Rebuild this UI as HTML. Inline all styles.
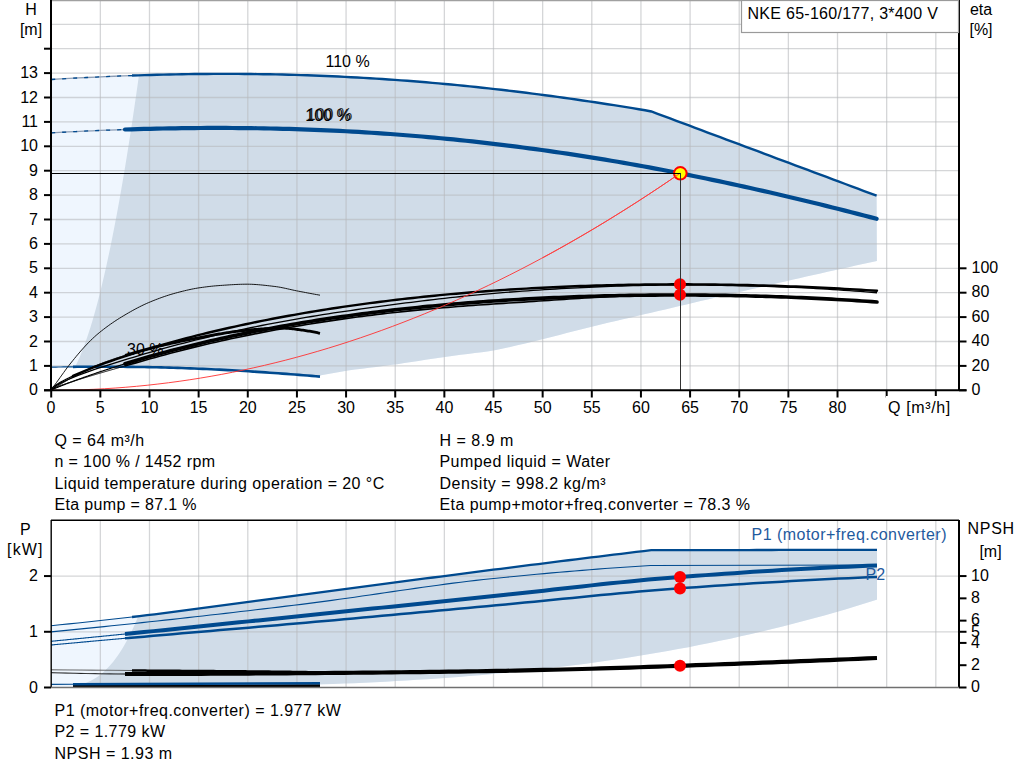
<!DOCTYPE html><html><head><meta charset="utf-8"><style>html,body{margin:0;padding:0;background:#fff;overflow:hidden}svg{display:block}</style></head><body><svg width="1024" height="781" viewBox="0 0 1024 781"><path d="M51.20 79.51L58.14 79.08L65.07 78.67L72.01 78.28L78.94 77.90L85.88 77.54L92.82 77.19L99.75 76.86L106.69 76.55L113.63 76.25L120.56 75.97L127.50 75.70L134.43 75.46L141.37 75.23L148.31 75.02L155.24 74.82L162.18 74.64L169.11 74.49L176.05 74.35L182.99 74.22L189.92 74.12L196.86 74.03L203.79 73.97L210.73 73.92L217.67 73.89L224.60 73.88L231.54 73.89L238.48 73.92L245.41 73.97L252.35 74.04L259.28 74.13L266.22 74.24L273.16 74.37L280.09 74.52L287.03 74.68L293.96 74.87L300.90 75.08L307.84 75.31L314.77 75.56L321.71 75.82L328.65 76.11L335.58 76.42L342.52 76.75L349.45 77.10L356.39 77.47L363.33 77.86L370.26 78.28L377.20 78.71L384.13 79.16L391.07 79.63L398.01 80.12L404.94 80.64L411.88 81.17L418.82 81.72L425.75 82.30L432.69 82.89L439.62 83.50L446.56 84.14L453.50 84.79L460.43 85.46L467.37 86.16L474.30 86.87L481.24 87.60L488.18 88.35L495.11 89.12L502.05 89.91L508.98 90.72L515.92 91.55L522.86 92.40L529.79 93.26L536.73 94.15L543.67 95.05L550.60 95.97L557.54 96.91L564.47 97.87L571.41 98.84L578.35 99.84L585.28 100.85L592.22 101.87L599.15 102.92L606.09 103.98L613.03 105.06L619.96 106.15L626.90 107.26L633.84 108.39L640.77 109.53L647.71 110.69L654.64 112.69L661.58 115.28L668.52 117.88L675.45 120.47L682.39 123.06L689.32 125.66L696.26 128.25L703.20 130.85L710.13 133.44L717.07 136.04L724.01 138.63L730.94 141.22L737.88 143.82L744.81 146.41L751.75 149.01L758.69 151.60L765.62 154.19L772.56 156.79L779.49 159.38L786.43 161.98L793.37 164.57L800.30 167.16L807.24 169.76L814.17 172.35L821.11 174.95L828.05 177.54L834.98 180.14L841.92 182.73L848.86 185.32L855.79 187.92L862.73 190.51L869.66 193.11L876.60 195.70L876.90 261.00L869.85 262.53L862.79 264.07L855.74 265.61L848.69 267.16L841.63 268.72L834.58 270.28L827.53 271.85L820.47 273.42L813.42 275.01L806.37 276.59L799.32 278.19L792.26 279.79L785.21 281.41L778.16 283.03L771.10 284.65L764.05 286.28L757.00 287.91L749.94 289.55L742.89 291.18L735.84 292.82L728.78 294.47L721.73 296.12L714.68 297.77L707.62 299.43L700.57 301.09L693.52 302.76L686.46 304.42L679.41 306.09L672.36 307.75L665.31 309.41L658.25 311.07L651.20 312.72L644.15 314.36L637.09 316.01L630.04 317.65L622.99 319.30L615.93 320.96L608.88 322.62L601.83 324.30L594.77 326.00L587.72 327.72L580.67 329.48L573.61 331.27L566.56 333.08L559.51 334.90L552.45 336.72L545.40 338.52L538.35 340.29L531.29 342.03L524.24 343.71L517.19 345.35L510.14 347.00L503.08 348.58L496.03 349.99L488.98 351.16L481.92 352.19L474.87 353.12L467.82 354.00L460.76 354.85L453.71 355.72L446.66 356.65L439.60 357.67L432.55 358.73L425.50 359.83L418.44 360.93L411.39 362.04L404.34 363.11L397.28 364.15L390.23 365.12L383.18 366.03L376.13 366.90L369.07 367.77L362.02 368.65L354.97 369.58L347.91 370.59L340.86 371.69L333.81 372.89L326.75 374.17L319.70 375.50L320.00 376.58L313.11 376.01L306.22 375.45L299.32 374.90L292.43 374.37L285.54 373.84L278.65 373.33L271.75 372.84L264.86 372.36L257.97 371.90L251.08 371.45L244.18 371.03L237.29 370.62L230.40 370.23L223.51 369.86L216.62 369.51L209.72 369.18L202.83 368.86L195.94 368.57L189.05 368.30L182.15 368.06L175.26 367.83L168.37 367.62L161.48 367.44L154.58 367.27L147.69 367.13L140.80 367.01L133.91 366.90L127.02 366.82L120.12 366.76L113.23 366.72L106.34 366.69L99.45 366.69L92.55 366.70L85.66 366.73L78.77 366.78L71.88 366.85L64.98 366.92L58.09 367.02L51.20 367.13 Z" fill="#eff6fe"/>
<path d="M138.94 75.31L145.14 75.11L151.34 74.93L157.54 74.76L163.74 74.61L169.94 74.47L176.13 74.34L182.33 74.23L188.53 74.14L194.73 74.06L200.93 73.99L207.13 73.94L213.33 73.91L219.53 73.89L225.73 73.88L231.92 73.90L238.12 73.92L244.32 73.96L250.52 74.02L256.72 74.10L262.92 74.19L269.12 74.29L275.32 74.41L281.51 74.55L287.71 74.70L293.91 74.87L300.11 75.05L306.31 75.26L312.51 75.47L318.71 75.71L324.91 75.96L331.11 76.22L337.30 76.50L343.50 76.80L349.70 77.12L355.90 77.45L362.10 77.79L368.30 78.16L374.50 78.54L380.70 78.93L386.89 79.34L393.09 79.77L399.29 80.22L405.49 80.68L411.69 81.15L417.89 81.65L424.09 82.16L430.29 82.68L436.48 83.22L442.68 83.78L448.88 84.35L455.08 84.94L461.28 85.55L467.48 86.17L473.68 86.80L479.88 87.46L486.08 88.12L492.27 88.81L498.47 89.50L504.67 90.22L510.87 90.95L517.07 91.69L523.27 92.45L529.47 93.22L535.67 94.01L541.86 94.81L548.06 95.63L554.26 96.47L560.46 97.31L566.66 98.17L572.86 99.05L579.06 99.94L585.26 100.84L591.45 101.76L597.65 102.69L603.85 103.63L610.05 104.59L616.25 105.56L622.45 106.55L628.65 107.54L634.85 108.55L641.05 109.58L647.24 110.61L653.44 112.24L659.64 114.56L665.84 116.88L672.04 119.19L678.24 121.51L684.44 123.83L690.64 126.15L696.83 128.47L703.03 130.79L709.23 133.10L715.43 135.42L721.63 137.74L727.83 140.06L734.03 142.38L740.23 144.70L746.43 147.01L752.62 149.33L758.82 151.65L765.02 153.97L771.22 156.29L777.42 158.61L783.62 160.92L789.82 163.24L796.02 165.56L802.21 167.88L808.41 170.20L814.61 172.52L820.81 174.83L827.01 177.15L833.21 179.47L839.41 181.79L845.61 184.11L851.80 186.43L858.00 188.74L864.20 191.06L870.40 193.38L876.60 195.70L876.90 261.00L869.85 262.53L862.79 264.07L855.74 265.61L848.69 267.16L841.63 268.72L834.58 270.28L827.53 271.85L820.47 273.42L813.42 275.01L806.37 276.59L799.32 278.19L792.26 279.79L785.21 281.41L778.16 283.03L771.10 284.65L764.05 286.28L757.00 287.91L749.94 289.55L742.89 291.18L735.84 292.82L728.78 294.47L721.73 296.12L714.68 297.77L707.62 299.43L700.57 301.09L693.52 302.76L686.46 304.42L679.41 306.09L672.36 307.75L665.31 309.41L658.25 311.07L651.20 312.72L644.15 314.36L637.09 316.01L630.04 317.65L622.99 319.30L615.93 320.96L608.88 322.62L601.83 324.30L594.77 326.00L587.72 327.72L580.67 329.48L573.61 331.27L566.56 333.08L559.51 334.90L552.45 336.72L545.40 338.52L538.35 340.29L531.29 342.03L524.24 343.71L517.19 345.35L510.14 347.00L503.08 348.58L496.03 349.99L488.98 351.16L481.92 352.19L474.87 353.12L467.82 354.00L460.76 354.85L453.71 355.72L446.66 356.65L439.60 357.67L432.55 358.73L425.50 359.83L418.44 360.93L411.39 362.04L404.34 363.11L397.28 364.15L390.23 365.12L383.18 366.03L376.13 366.90L369.07 367.77L362.02 368.65L354.97 369.58L347.91 370.59L340.86 371.69L333.81 372.89L326.75 374.17L319.70 375.50L320.00 376.58L313.72 376.06L307.44 375.55L301.17 375.05L294.89 374.55L288.61 374.07L282.33 373.60L276.05 373.15L269.78 372.70L263.50 372.27L257.22 371.85L250.94 371.45L244.66 371.06L238.39 370.68L232.11 370.32L225.83 369.98L219.55 369.65L213.27 369.34L207.00 369.05L200.72 368.77L194.44 368.51L188.16 368.27L181.88 368.05L175.61 367.84L169.33 367.65L163.05 367.48L156.77 367.32L150.49 367.18L144.22 367.06L137.94 366.96L131.66 366.87L125.38 366.80L119.11 366.75L112.83 366.71L106.55 366.69L100.27 366.69L93.99 366.70L87.72 366.72L81.44 366.76L75.16 366.81L75.16 366.81L77.36 362.30L79.56 357.40L81.76 352.09L83.96 346.40L86.16 340.30L88.36 333.81L90.56 326.93L92.75 319.65L94.95 311.97L97.15 303.90L99.35 295.43L101.55 286.57L103.75 277.31L105.95 267.65L108.15 257.60L110.35 247.15L112.55 236.31L114.75 225.07L116.95 213.43L119.15 201.40L121.35 188.97L123.55 176.15L125.75 162.93L127.95 149.32L130.14 135.31L132.34 120.90L134.54 106.10L136.74 90.90L138.94 75.31 Z" fill="#d0dce8"/>
<line x1="100.34" y1="0" x2="100.34" y2="390" stroke="rgba(182,184,187,0.58)" stroke-width="1.3"/>
<line x1="149.49" y1="0" x2="149.49" y2="390" stroke="rgba(182,184,187,0.58)" stroke-width="1.3"/>
<line x1="198.63" y1="0" x2="198.63" y2="390" stroke="rgba(182,184,187,0.58)" stroke-width="1.3"/>
<line x1="247.78" y1="0" x2="247.78" y2="390" stroke="rgba(182,184,187,0.58)" stroke-width="1.3"/>
<line x1="296.93" y1="0" x2="296.93" y2="390" stroke="rgba(182,184,187,0.58)" stroke-width="1.3"/>
<line x1="346.07" y1="0" x2="346.07" y2="390" stroke="rgba(182,184,187,0.58)" stroke-width="1.3"/>
<line x1="395.22" y1="0" x2="395.22" y2="390" stroke="rgba(182,184,187,0.58)" stroke-width="1.3"/>
<line x1="444.36" y1="0" x2="444.36" y2="390" stroke="rgba(182,184,187,0.58)" stroke-width="1.3"/>
<line x1="493.50" y1="0" x2="493.50" y2="390" stroke="rgba(182,184,187,0.58)" stroke-width="1.3"/>
<line x1="542.65" y1="0" x2="542.65" y2="390" stroke="rgba(182,184,187,0.58)" stroke-width="1.3"/>
<line x1="591.80" y1="0" x2="591.80" y2="390" stroke="rgba(182,184,187,0.58)" stroke-width="1.3"/>
<line x1="640.94" y1="0" x2="640.94" y2="390" stroke="rgba(182,184,187,0.58)" stroke-width="1.3"/>
<line x1="690.09" y1="0" x2="690.09" y2="390" stroke="rgba(182,184,187,0.58)" stroke-width="1.3"/>
<line x1="739.23" y1="0" x2="739.23" y2="390" stroke="rgba(182,184,187,0.58)" stroke-width="1.3"/>
<line x1="788.38" y1="0" x2="788.38" y2="390" stroke="rgba(182,184,187,0.58)" stroke-width="1.3"/>
<line x1="837.52" y1="0" x2="837.52" y2="390" stroke="rgba(182,184,187,0.58)" stroke-width="1.3"/>
<line x1="886.67" y1="0" x2="886.67" y2="390" stroke="rgba(182,184,187,0.58)" stroke-width="1.3"/>
<line x1="935.81" y1="0" x2="935.81" y2="390" stroke="rgba(182,184,187,0.58)" stroke-width="1.3"/>
<line x1="51" y1="365.90" x2="959" y2="365.90" stroke="rgba(182,184,187,0.58)" stroke-width="1.3"/>
<line x1="51" y1="341.50" x2="959" y2="341.50" stroke="rgba(182,184,187,0.58)" stroke-width="1.3"/>
<line x1="51" y1="317.10" x2="959" y2="317.10" stroke="rgba(182,184,187,0.58)" stroke-width="1.3"/>
<line x1="51" y1="292.70" x2="959" y2="292.70" stroke="rgba(182,184,187,0.58)" stroke-width="1.3"/>
<line x1="51" y1="268.30" x2="959" y2="268.30" stroke="rgba(182,184,187,0.58)" stroke-width="1.3"/>
<line x1="51" y1="243.90" x2="959" y2="243.90" stroke="rgba(182,184,187,0.58)" stroke-width="1.3"/>
<line x1="51" y1="219.50" x2="959" y2="219.50" stroke="rgba(182,184,187,0.58)" stroke-width="1.3"/>
<line x1="51" y1="195.10" x2="959" y2="195.10" stroke="rgba(182,184,187,0.58)" stroke-width="1.3"/>
<line x1="51" y1="170.70" x2="959" y2="170.70" stroke="rgba(182,184,187,0.58)" stroke-width="1.3"/>
<line x1="51" y1="146.30" x2="959" y2="146.30" stroke="rgba(182,184,187,0.58)" stroke-width="1.3"/>
<line x1="51" y1="121.90" x2="959" y2="121.90" stroke="rgba(182,184,187,0.58)" stroke-width="1.3"/>
<line x1="51" y1="97.50" x2="959" y2="97.50" stroke="rgba(182,184,187,0.58)" stroke-width="1.3"/>
<line x1="51" y1="73.10" x2="959" y2="73.10" stroke="rgba(182,184,187,0.58)" stroke-width="1.3"/>
<line x1="51" y1="48.70" x2="959" y2="48.70" stroke="rgba(182,184,187,0.58)" stroke-width="1.3"/>
<line x1="51" y1="24.30" x2="959" y2="24.30" stroke="rgba(182,184,187,0.58)" stroke-width="1.3"/>
<line x1="51" y1="0.5" x2="959" y2="0.5" stroke="#a0a0a0" stroke-width="1.5"/>
<path d="M51.20 132.83L59.40 132.39L67.60 131.96L75.80 131.55L84.00 131.16L92.20 130.79L100.40 130.44L108.60 130.11L116.80 129.81L125.00 129.52" fill="none" stroke="#8c9db5" stroke-width="1.3"/>
<path d="M51.20 132.83L59.40 132.39L67.60 131.96L75.80 131.55L84.00 131.16L92.20 130.79L100.40 130.44L108.60 130.11L116.80 129.81L125.00 129.52" fill="none" stroke="#004a8f" stroke-width="1.3" stroke-dasharray="4 7"/>
<path d="M125.00 129.52L131.32 129.32L137.63 129.13L143.95 128.95L150.26 128.79L156.58 128.64L162.90 128.51L169.21 128.39L175.53 128.28L181.84 128.19L188.16 128.11L194.48 128.05L200.79 128.00L207.11 127.97L213.42 127.95L219.74 127.95L226.06 127.96L232.37 127.99L238.69 128.03L245.00 128.09L251.32 128.17L257.64 128.26L263.95 128.37L270.27 128.49L276.58 128.63L282.90 128.79L289.22 128.96L295.53 129.15L301.85 129.36L308.16 129.58L314.48 129.82L320.79 130.07L327.11 130.35L333.43 130.64L339.74 130.95L346.06 131.27L352.37 131.61L358.69 131.97L365.01 132.35L371.32 132.74L377.64 133.15L383.95 133.58L390.27 134.03L396.59 134.49L402.90 134.97L409.22 135.47L415.53 135.99L421.85 136.52L428.17 137.08L434.48 137.65L440.80 138.23L447.11 138.84L453.43 139.46L459.75 140.10L466.06 140.76L472.38 141.43L478.69 142.13L485.01 142.84L491.33 143.57L497.64 144.31L503.96 145.08L510.27 145.86L516.59 146.66L522.91 147.47L529.22 148.31L535.54 149.16L541.85 150.03L548.17 150.91L554.49 151.82L560.80 152.74L567.12 153.68L573.43 154.63L579.75 155.61L586.07 156.60L592.38 157.60L598.70 158.63L605.01 159.67L611.33 160.72L617.65 161.80L623.96 162.89L630.28 163.99L636.59 165.12L642.91 166.26L649.23 167.41L655.54 168.58L661.86 169.77L668.17 170.98L674.49 172.20L680.81 173.43L687.12 174.68L693.44 175.95L699.75 177.23L706.07 178.53L712.38 179.84L718.70 181.17L725.02 182.51L731.33 183.87L737.65 185.24L743.96 186.63L750.28 188.03L756.60 189.44L762.91 190.87L769.23 192.31L775.54 193.77L781.86 195.23L788.18 196.72L794.49 198.21L800.81 199.72L807.12 201.24L813.44 202.78L819.76 204.32L826.07 205.88L832.39 207.45L838.70 209.03L845.02 210.63L851.34 212.23L857.65 213.85L863.97 215.48L870.28 217.12L876.60 218.77" fill="none" stroke="#004a8f" stroke-width="4.2" stroke-linecap="round"/>
<path d="M51.20 79.51L60.18 78.96L69.16 78.44L78.13 77.94L87.11 77.48L96.09 77.03L105.07 76.62L114.04 76.23L123.02 75.87L132.00 75.54" fill="none" stroke="#8c9db5" stroke-width="1.3"/>
<path d="M51.20 79.51L60.18 78.96L69.16 78.44L78.13 77.94L87.11 77.48L96.09 77.03L105.07 76.62L114.04 76.23L123.02 75.87L132.00 75.54" fill="none" stroke="#004a8f" stroke-width="1.3" stroke-dasharray="4 7"/>
<path d="M132.00 75.54L138.26 75.33L144.51 75.13L150.77 74.94L157.03 74.77L163.29 74.62L169.54 74.48L175.80 74.35L182.06 74.24L188.31 74.14L194.57 74.06L200.83 73.99L207.09 73.94L213.34 73.91L219.60 73.89L225.86 73.88L232.11 73.90L238.37 73.92L244.63 73.97L250.89 74.03L257.14 74.10L263.40 74.19L269.66 74.30L275.91 74.42L282.17 74.56L288.43 74.72L294.69 74.89L300.94 75.08L307.20 75.29L313.46 75.51L319.71 75.75L325.97 76.00L332.23 76.27L338.49 76.56L344.74 76.86L351.00 77.18L357.26 77.52L363.51 77.88L369.77 78.25L376.03 78.63L382.29 79.04L388.54 79.46L394.80 79.89L401.06 80.35L407.31 80.82L413.57 81.30L419.83 81.81L426.09 82.32L432.34 82.86L438.60 83.41L444.86 83.98L451.11 84.56L457.37 85.16L463.63 85.78L469.89 86.41L476.14 87.06L482.40 87.72L488.66 88.40L494.91 89.10L501.17 89.81L507.43 90.54L513.69 91.28L519.94 92.04L526.20 92.81L532.46 93.60L538.71 94.40L544.97 95.22L551.23 96.06L557.49 96.90L563.74 97.77L570.00 98.64L576.26 99.54L582.51 100.44L588.77 101.36L595.03 102.29L601.29 103.24L607.54 104.20L613.80 105.18L620.06 106.17L626.31 107.17L632.57 108.18L638.83 109.21L645.09 110.25L651.34 111.45L657.60 113.79L663.86 116.13L670.11 118.47L676.37 120.81L682.63 123.15L688.89 125.49L695.14 127.84L701.40 130.18L707.66 132.52L713.91 134.86L720.17 137.20L726.43 139.54L732.69 141.88L738.94 144.22L745.20 146.56L751.46 148.90L757.71 151.24L763.97 153.58L770.23 155.92L776.49 158.26L782.74 160.60L789.00 162.94L795.26 165.28L801.51 167.62L807.77 169.96L814.03 172.30L820.29 174.64L826.54 176.98L832.80 179.32L839.06 181.66L845.31 184.00L851.57 186.34L857.83 188.68L864.09 191.02L870.34 193.36L876.60 195.70" fill="none" stroke="#004a8f" stroke-width="2.4"/>
<path d="M51.20 367.13L53.62 367.09L56.04 367.05L58.47 367.01L60.89 366.98L63.31 366.95L65.73 366.92L68.16 366.89L70.58 366.86L73.00 366.83" fill="none" stroke="#004a8f" stroke-width="1.2"/>
<path d="M73.00 366.83L77.19 366.79L81.37 366.76L85.56 366.73L89.75 366.71L93.93 366.70L98.12 366.69L102.31 366.69L106.49 366.69L110.68 366.71L114.86 366.73L119.05 366.75L123.24 366.78L127.42 366.83L131.61 366.87L135.80 366.93L139.98 366.99L144.17 367.06L148.36 367.14L152.54 367.23L156.73 367.32L160.92 367.42L165.10 367.53L169.29 367.65L173.47 367.77L177.66 367.91L181.85 368.05L186.03 368.19L190.22 368.35L194.41 368.51L198.59 368.68L202.78 368.86L206.97 369.05L211.15 369.24L215.34 369.44L219.53 369.65L223.71 369.87L227.90 370.09L232.08 370.32L236.27 370.56L240.46 370.80L244.64 371.06L248.83 371.31L253.02 371.58L257.20 371.85L261.39 372.13L265.58 372.41L269.76 372.70L273.95 373.00L278.14 373.30L282.32 373.60L286.51 373.92L290.69 374.23L294.88 374.55L299.07 374.88L303.25 375.21L307.44 375.55L311.63 375.89L315.81 376.23L320.00 376.58" fill="none" stroke="#004a8f" stroke-width="2.6"/>
<text x="127.0" y="355.2" text-anchor="start" font-family="Liberation Sans, sans-serif" font-size="16" >30 %</text>
<path d="M51.00 390.30L52.81 387.73L54.61 385.18L56.42 382.64L58.22 380.12L60.03 377.60L61.83 375.09L63.64 372.57L65.44 370.05L67.25 367.60L69.05 365.28L70.86 362.99L72.66 360.74L74.47 358.51L76.28 356.32L78.08 354.16L79.89 352.05L81.69 349.98L83.50 347.95L85.30 345.98L87.11 344.06L88.91 342.19L90.72 340.39L92.52 338.65L94.33 336.97L96.13 335.35L97.94 333.80L99.74 332.31L101.55 330.87L103.36 329.46L105.16 328.08L106.97 326.74L108.77 325.42L110.58 324.14L112.38 322.88L114.19 321.66L115.99 320.46L117.80 319.30L119.60 318.16L121.41 317.05L123.21 315.96L125.02 314.88L126.83 313.82L128.63 312.77L130.44 311.74L132.24 310.72L134.05 309.73L135.85 308.76L137.66 307.81L139.46 306.88L141.27 305.98L143.07 305.10L144.88 304.25L146.68 303.43L148.49 302.64L150.30 301.88L152.10 301.14L153.91 300.41L155.71 299.70L157.52 299.00L159.32 298.33L161.13 297.66L162.93 297.02L164.74 296.40L166.54 295.79L168.35 295.21L170.15 294.64L171.96 294.10L173.77 293.57L175.57 293.07L177.38 292.59L179.18 292.11L180.99 291.65L182.79 291.19L184.60 290.75L186.40 290.32L188.21 289.91L190.01 289.52L191.82 289.14L193.62 288.78L195.43 288.44L197.23 288.13L199.04 287.84L200.85 287.58L202.65 287.33L204.46 287.08L206.26 286.85L208.07 286.63L209.87 286.42L211.68 286.23L213.48 286.04L215.29 285.87L217.09 285.72L218.90 285.58L220.70 285.45L222.51 285.33L224.32 285.20L226.12 285.08L227.93 284.96L229.73 284.84L231.54 284.73L233.34 284.63L235.15 284.53L236.95 284.45L238.76 284.37L240.56 284.31L242.37 284.26L244.17 284.22L245.98 284.20L247.79 284.20L249.59 284.23L251.40 284.28L253.20 284.36L255.01 284.46L256.81 284.59L258.62 284.73L260.42 284.88L262.23 285.05L264.03 285.24L265.84 285.43L267.64 285.63L269.45 285.84L271.26 286.06L273.06 286.27L274.87 286.48L276.67 286.72L278.48 287.00L280.28 287.31L282.09 287.66L283.89 288.03L285.70 288.42L287.50 288.82L289.31 289.23L291.11 289.64L292.92 290.04L294.72 290.44L296.53 290.81L298.34 291.16L300.14 291.51L301.95 291.85L303.75 292.20L305.56 292.54L307.36 292.88L309.17 293.21L310.97 293.55L312.78 293.88L314.58 294.22L316.39 294.55L318.19 294.87L320.00 295.20" fill="none" stroke="#000" stroke-width="0.9" />
<path d="M51.00 390.30L51.50 389.98L51.99 389.66L52.49 389.34L52.99 389.02L53.48 388.70L53.98 388.38L54.48 388.06L54.97 387.75L55.47 387.43L55.97 387.12L56.46 386.81L56.96 386.49L57.46 386.18L57.95 385.87L58.45 385.56L58.95 385.25L59.44 384.95L59.94 384.64L60.44 384.33L60.93 384.03L61.43 383.73L61.93 383.42L62.42 383.12L62.92 382.82L63.42 382.52L63.91 382.22L64.41 381.93L64.91 381.63L65.40 381.34L65.90 381.04L66.40 380.75L66.89 380.46L67.39 380.17L67.89 379.88L68.38 379.59L68.88 379.30L69.38 379.01L69.87 378.73L70.37 378.45L70.87 378.16L71.36 377.88L71.86 377.60L72.36 377.32L72.85 377.04L73.35 376.77L73.85 376.49L74.34 376.22L74.84 375.95L75.34 375.67L75.83 375.40L76.33 375.13L76.83 374.87L77.32 374.60L77.82 374.34L78.32 374.07L78.81 373.81L79.31 373.55L79.81 373.29L80.30 373.03L80.80 372.77L81.30 372.52L81.79 372.26L82.29 372.01L82.79 371.76L83.28 371.51L83.78 371.26L84.28 371.02L84.77 370.77L85.27 370.53L85.77 370.28L86.26 370.04L86.76 369.80L87.26 369.57L87.75 369.33L88.25 369.09L88.74 368.86L89.24 368.63L89.74 368.40L90.23 368.17L90.73 367.94L91.23 367.72L91.72 367.49L92.22 367.27L92.72 367.05L93.21 366.83L93.71 366.61L94.21 366.40L94.70 366.18L95.20 365.97L95.70 365.76L96.19 365.55L96.69 365.34L97.19 365.13L97.68 364.93L98.18 364.73L98.68 364.53L99.17 364.33L99.67 364.13L100.17 363.93L100.66 363.74L101.16 363.55L101.66 363.35L102.15 363.16L102.65 362.97L103.15 362.78L103.64 362.60L104.14 362.41L104.64 362.22L105.13 362.04L105.63 361.86L106.13 361.67L106.62 361.49L107.12 361.31L107.62 361.13L108.11 360.95L108.61 360.77L109.11 360.60L109.60 360.42L110.10 360.25L110.60 360.07L111.09 359.90L111.59 359.73L112.09 359.56L112.58 359.39L113.08 359.22L113.58 359.05L114.07 358.88L114.57 358.71L115.07 358.55L115.56 358.38L116.06 358.22L116.56 358.06L117.05 357.89L117.55 357.73L118.05 357.57L118.54 357.41L119.04 357.25L119.54 357.09L120.03 356.94L120.53 356.78L121.03 356.62L121.52 356.47L122.02 356.31L122.52 356.16L123.01 356.01L123.51 355.85L124.01 355.70L124.50 355.55L125.00 355.40" fill="none" stroke="#000" stroke-width="1.0" />
<path d="M125.00 355.40L126.31 355.01L127.62 354.62L128.93 354.23L130.23 353.85L131.54 353.48L132.85 353.10L134.16 352.74L135.47 352.37L136.78 352.01L138.09 351.65L139.40 351.29L140.70 350.94L142.01 350.59L143.32 350.24L144.63 349.90L145.94 349.55L147.25 349.21L148.56 348.87L149.87 348.53L151.17 348.20L152.48 347.87L153.79 347.54L155.10 347.21L156.41 346.88L157.72 346.56L159.03 346.24L160.34 345.93L161.64 345.61L162.95 345.30L164.26 344.99L165.57 344.68L166.88 344.38L168.19 344.08L169.50 343.78L170.81 343.49L172.11 343.19L173.42 342.90L174.73 342.61L176.04 342.33L177.35 342.04L178.66 341.76L179.97 341.48L181.28 341.21L182.58 340.93L183.89 340.66L185.20 340.39L186.51 340.12L187.82 339.86L189.13 339.60L190.44 339.34L191.74 339.08L193.05 338.82L194.36 338.57L195.67 338.32L196.98 338.07L198.29 337.82L199.60 337.57L200.91 337.33L202.21 337.09L203.52 336.84L204.83 336.60L206.14 336.36L207.45 336.11L208.76 335.87L210.07 335.63L211.38 335.39L212.68 335.15L213.99 334.92L215.30 334.68L216.61 334.45L217.92 334.22L219.23 334.00L220.54 333.78L221.85 333.56L223.15 333.34L224.46 333.13L225.77 332.92L227.08 332.72L228.39 332.52L229.70 332.33L231.01 332.14L232.32 331.95L233.62 331.78L234.93 331.60L236.24 331.44L237.55 331.28L238.86 331.13L240.17 330.98L241.48 330.84L242.79 330.70L244.09 330.56L245.40 330.42L246.71 330.28L248.02 330.14L249.33 330.01L250.64 329.88L251.95 329.75L253.26 329.63L254.56 329.51L255.87 329.40L257.18 329.29L258.49 329.18L259.80 329.09L261.11 328.99L262.42 328.91L263.72 328.83L265.03 328.75L266.34 328.69L267.65 328.63L268.96 328.58L270.27 328.53L271.58 328.48L272.89 328.43L274.19 328.39L275.50 328.35L276.81 328.31L278.12 328.28L279.43 328.25L280.74 328.22L282.05 328.21L283.36 328.20L284.66 328.20L285.97 328.24L287.28 328.31L288.59 328.40L289.90 328.52L291.21 328.66L292.52 328.81L293.83 328.98L295.13 329.15L296.44 329.33L297.75 329.51L299.06 329.68L300.37 329.85L301.68 330.02L302.99 330.20L304.30 330.39L305.60 330.59L306.91 330.80L308.22 331.02L309.53 331.24L310.84 331.47L312.15 331.71L313.46 331.96L314.77 332.21L316.07 332.47L317.38 332.74L318.69 333.01L320.00 333.29" fill="none" stroke="#000" stroke-width="2.8" />
<path d="M51.00 390.80L56.54 385.33L62.09 382.33L67.63 379.75L73.17 377.40L78.72 375.21L84.26 373.13L89.81 371.14L95.35 369.22L100.89 367.36L106.44 365.55L111.98 363.78L117.52 362.05L123.07 360.35L128.61 358.67L134.15 357.01L139.70 355.37L145.24 353.74L150.79 352.13L156.33 350.53L161.87 348.97L167.42 347.44L172.96 345.94L178.50 344.47L184.05 343.03L189.59 341.62L195.13 340.23L200.68 338.87L206.22 337.54L211.77 336.23L217.31 334.95L222.85 333.69L228.40 332.45L233.94 331.24L239.48 330.05L245.03 328.88L250.57 327.74L256.11 326.62L261.66 325.51L267.20 324.43L272.74 323.37L278.29 322.33L283.83 321.31L289.38 320.31L294.92 319.33L300.46 318.37L306.01 317.43L311.55 316.50L317.09 315.59L322.64 314.71L328.18 313.84L333.72 312.98L339.27 312.15L344.81 311.33L350.36 310.53L355.90 309.74L361.44 308.95L366.99 308.17L372.53 307.40L378.07 306.64L383.62 305.89L389.16 305.15L394.70 304.41L400.25 303.69L405.79 302.97L411.34 302.27L416.88 301.58L422.42 300.90L427.97 300.23L433.51 299.57L439.05 298.93L444.60 298.30L450.14 297.68L455.68 297.08L461.23 296.50L466.77 295.93L472.32 295.37L477.86 294.84L483.40 294.32L488.95 293.81L494.49 293.33L500.03 292.86L505.58 292.42L511.12 291.99L516.66 291.57L522.21 291.17L527.75 290.78L533.30 290.40L538.84 290.03L544.38 289.67L549.93 289.32L555.47 288.99L561.01 288.67L566.56 288.36L572.10 288.06L577.64 287.78L583.19 287.51L588.73 287.25L594.28 287.00L599.82 286.77L605.36 286.56L610.91 286.35L616.45 286.16L621.99 285.99L627.54 285.83L633.08 285.69L638.62 285.56L644.17 285.44L649.71 285.34L655.26 285.26L660.80 285.20L666.34 285.15L671.89 285.11L677.43 285.10L682.97 285.10L688.52 285.11L694.06 285.13L699.60 285.17L705.15 285.22L710.69 285.27L716.23 285.34L721.78 285.42L727.32 285.51L732.87 285.62L738.41 285.73L743.95 285.86L749.50 285.99L755.04 286.14L760.58 286.29L766.13 286.46L771.67 286.64L777.21 286.83L782.76 287.03L788.30 287.24L793.85 287.47L799.39 287.70L804.93 287.95L810.48 288.22L816.02 288.51L821.56 288.81L827.11 289.14L832.65 289.49L838.19 289.85L843.74 290.23L849.28 290.62L854.83 291.03L860.37 291.45L865.91 291.88L871.46 292.32L877.00 292.77" fill="none" stroke="#000" stroke-width="1.3" />
<path d="M51.00 389.30L51.50 388.97L51.99 388.74L52.49 388.53L52.99 388.33L53.48 388.13L53.98 387.93L54.48 387.74L54.97 387.55L55.47 387.37L55.97 387.18L56.46 387.00L56.96 386.82L57.46 386.64L57.95 386.46L58.45 386.29L58.95 386.11L59.44 385.93L59.94 385.76L60.44 385.59L60.93 385.41L61.43 385.24L61.93 385.07L62.42 384.90L62.92 384.73L63.42 384.56L63.91 384.39L64.41 384.22L64.91 384.06L65.40 383.89L65.90 383.72L66.40 383.56L66.89 383.39L67.39 383.23L67.89 383.06L68.38 382.90L68.88 382.74L69.38 382.57L69.87 382.41L70.37 382.25L70.87 382.09L71.36 381.92L71.86 381.76L72.36 381.60L72.85 381.44L73.35 381.28L73.85 381.12L74.34 380.97L74.84 380.81L75.34 380.65L75.83 380.49L76.33 380.33L76.83 380.18L77.32 380.02L77.82 379.86L78.32 379.71L78.81 379.55L79.31 379.39L79.81 379.24L80.30 379.08L80.80 378.93L81.30 378.78L81.79 378.62L82.29 378.47L82.79 378.31L83.28 378.16L83.78 378.01L84.28 377.86L84.77 377.70L85.27 377.55L85.77 377.40L86.26 377.25L86.76 377.10L87.26 376.94L87.75 376.79L88.25 376.64L88.74 376.49L89.24 376.34L89.74 376.19L90.23 376.04L90.73 375.89L91.23 375.74L91.72 375.59L92.22 375.45L92.72 375.30L93.21 375.15L93.71 375.00L94.21 374.85L94.70 374.71L95.20 374.56L95.70 374.41L96.19 374.26L96.69 374.12L97.19 373.97L97.68 373.82L98.18 373.68L98.68 373.53L99.17 373.38L99.67 373.24L100.17 373.09L100.66 372.95L101.16 372.80L101.66 372.66L102.15 372.51L102.65 372.37L103.15 372.22L103.64 372.08L104.14 371.93L104.64 371.79L105.13 371.64L105.63 371.50L106.13 371.36L106.62 371.21L107.12 371.07L107.62 370.92L108.11 370.78L108.61 370.64L109.11 370.49L109.60 370.35L110.10 370.21L110.60 370.07L111.09 369.92L111.59 369.78L112.09 369.64L112.58 369.50L113.08 369.35L113.58 369.21L114.07 369.07L114.57 368.93L115.07 368.79L115.56 368.64L116.06 368.50L116.56 368.36L117.05 368.22L117.55 368.08L118.05 367.94L118.54 367.80L119.04 367.65L119.54 367.51L120.03 367.37L120.53 367.23L121.03 367.09L121.52 366.95L122.02 366.81L122.52 366.67L123.01 366.53L123.51 366.39L124.01 366.25L124.50 366.11L125.00 365.97" fill="none" stroke="#000" stroke-width="1.0" />
<path d="M125.00 365.97L130.05 364.54L135.09 363.12L140.14 361.70L145.19 360.27L150.23 358.85L155.28 357.43L160.33 356.03L165.38 354.66L170.42 353.32L175.47 351.99L180.52 350.69L185.56 349.40L190.61 348.14L195.66 346.90L200.70 345.69L205.75 344.49L210.80 343.31L215.85 342.16L220.89 341.02L225.94 339.90L230.99 338.81L236.03 337.73L241.08 336.67L246.13 335.63L251.17 334.60L256.22 333.60L261.27 332.62L266.32 331.65L271.36 330.70L276.41 329.76L281.46 328.85L286.50 327.95L291.55 327.07L296.60 326.20L301.64 325.35L306.69 324.52L311.74 323.70L316.79 322.90L321.83 322.11L326.88 321.34L331.93 320.59L336.97 319.85L342.02 319.12L347.07 318.41L352.11 317.72L357.16 317.04L362.21 316.38L367.26 315.73L372.30 315.10L377.35 314.49L382.40 313.89L387.44 313.31L392.49 312.74L397.54 312.19L402.58 311.65L407.63 311.12L412.68 310.61L417.72 310.11L422.77 309.63L427.82 309.15L432.87 308.69L437.91 308.24L442.96 307.81L448.01 307.38L453.05 306.96L458.10 306.56L463.15 306.17L468.19 305.78L473.24 305.41L478.29 305.04L483.34 304.69L488.38 304.34L493.43 304.00L498.48 303.67L503.52 303.35L508.57 303.04L513.62 302.73L518.66 302.41L523.71 302.08L528.76 301.75L533.81 301.41L538.85 301.07L543.90 300.73L548.95 300.38L553.99 300.04L559.04 299.70L564.09 299.36L569.13 299.03L574.18 298.70L579.23 298.38L584.28 298.07L589.32 297.77L594.37 297.48L599.42 297.20L604.46 296.94L609.51 296.69L614.56 296.46L619.60 296.25L624.65 296.05L629.70 295.88L634.74 295.73L639.79 295.61L644.84 295.51L649.89 295.43L654.93 295.38L659.98 295.33L665.03 295.29L670.07 295.27L675.12 295.25L680.17 295.24L685.21 295.23L690.26 295.24L695.31 295.26L700.36 295.29L705.40 295.32L710.45 295.36L715.50 295.42L720.54 295.48L725.59 295.55L730.64 295.63L735.68 295.72L740.73 295.82L745.78 295.92L750.83 296.04L755.87 296.16L760.92 296.30L765.97 296.44L771.01 296.60L776.06 296.76L781.11 296.93L786.15 297.11L791.20 297.30L796.25 297.50L801.30 297.71L806.34 297.92L811.39 298.15L816.44 298.39L821.48 298.64L826.53 298.89L831.58 299.16L836.62 299.43L841.67 299.72L846.72 300.02L851.77 300.32L856.81 300.64L861.86 300.96L866.91 301.30L871.95 301.64L877.00 302.00" fill="none" stroke="#000" stroke-width="1.6" />
<path d="M51.00 390.30L51.15 389.58L51.30 389.26L51.44 389.00L51.59 388.77L51.74 388.57L51.89 388.39L52.03 388.21L52.18 388.04L52.33 387.89L52.48 387.73L52.62 387.59L52.77 387.45L52.92 387.31L53.07 387.17L53.21 387.04L53.36 386.91L53.51 386.79L53.66 386.67L53.81 386.55L53.95 386.43L54.10 386.31L54.25 386.20L54.40 386.08L54.54 385.97L54.69 385.86L54.84 385.75L54.99 385.64L55.13 385.54L55.28 385.43L55.43 385.33L55.58 385.23L55.72 385.12L55.87 385.02L56.02 384.92L56.17 384.82L56.32 384.73L56.46 384.63L56.61 384.53L56.76 384.43L56.91 384.34L57.05 384.24L57.20 384.15L57.35 384.06L57.50 383.96L57.64 383.87L57.79 383.78L57.94 383.69L58.09 383.60L58.23 383.51L58.38 383.42L58.53 383.33L58.68 383.24L58.83 383.16L58.97 383.07L59.12 382.98L59.27 382.89L59.42 382.81L59.56 382.72L59.71 382.64L59.86 382.55L60.01 382.47L60.15 382.38L60.30 382.30L60.45 382.22L60.60 382.13L60.74 382.05L60.89 381.97L61.04 381.88L61.19 381.80L61.34 381.72L61.48 381.64L61.63 381.56L61.78 381.48L61.93 381.40L62.07 381.32L62.22 381.24L62.37 381.16L62.52 381.08L62.66 381.00L62.81 380.92L62.96 380.84L63.11 380.77L63.26 380.69L63.40 380.61L63.55 380.53L63.70 380.46L63.85 380.38L63.99 380.30L64.14 380.22L64.29 380.15L64.44 380.07L64.58 380.00L64.73 379.92L64.88 379.85L65.03 379.77L65.17 379.69L65.32 379.62L65.47 379.55L65.62 379.47L65.77 379.40L65.91 379.32L66.06 379.25L66.21 379.17L66.36 379.10L66.50 379.03L66.65 378.95L66.80 378.88L66.95 378.81L67.09 378.74L67.24 378.66L67.39 378.59L67.54 378.52L67.68 378.45L67.83 378.37L67.98 378.30L68.13 378.23L68.28 378.16L68.42 378.09L68.57 378.02L68.72 377.95L68.87 377.88L69.01 377.81L69.16 377.73L69.31 377.66L69.46 377.59L69.60 377.52L69.75 377.45L69.90 377.38L70.05 377.31L70.19 377.24L70.34 377.18L70.49 377.11L70.64 377.04L70.79 376.97L70.93 376.90L71.08 376.83L71.23 376.76L71.38 376.69L71.52 376.62L71.67 376.56L71.82 376.49L71.97 376.42L72.11 376.35L72.26 376.28L72.41 376.22L72.56 376.15L72.70 376.08L72.85 376.01L73.00 375.95" fill="none" stroke="#000" stroke-width="1.2" />
<path d="M73.00 375.95L78.40 373.56L83.79 371.28L89.19 369.10L94.58 366.99L99.98 364.95L105.38 362.97L110.77 361.05L116.17 359.17L121.56 357.34L126.96 355.55L132.36 353.81L137.75 352.10L143.15 350.43L148.54 348.79L153.94 347.19L159.34 345.62L164.73 344.08L170.13 342.57L175.52 341.09L180.92 339.64L186.32 338.22L191.71 336.82L197.11 335.45L202.50 334.11L207.90 332.79L213.30 331.50L218.69 330.23L224.09 328.99L229.48 327.77L234.88 326.57L240.28 325.39L245.67 324.24L251.07 323.11L256.46 322.00L261.86 320.91L267.26 319.84L272.65 318.79L278.05 317.77L283.44 316.76L288.84 315.77L294.23 314.81L299.63 313.86L305.03 312.93L310.42 312.02L315.82 311.12L321.21 310.25L326.61 309.39L332.01 308.55L337.40 307.73L342.80 306.92L348.19 306.14L353.59 305.37L358.99 304.61L364.38 303.87L369.78 303.15L375.17 302.45L380.57 301.76L385.97 301.08L391.36 300.43L396.76 299.78L402.15 299.16L407.55 298.54L412.95 297.95L418.34 297.36L423.74 296.79L429.13 296.24L434.53 295.70L439.93 295.18L445.32 294.66L450.72 294.17L456.11 293.68L461.51 293.21L466.91 292.75L472.30 292.31L477.70 291.88L483.09 291.46L488.49 291.06L493.89 290.67L499.28 290.29L504.68 289.92L510.07 289.57L515.47 289.23L520.87 288.90L526.26 288.58L531.66 288.28L537.05 287.98L542.45 287.70L547.85 287.43L553.24 287.18L558.64 286.93L564.03 286.70L569.43 286.47L574.83 286.26L580.22 286.06L585.62 285.87L591.01 285.69L596.41 285.53L601.81 285.37L607.20 285.22L612.60 285.09L617.99 284.97L623.39 284.85L628.79 284.75L634.18 284.66L639.58 284.58L644.97 284.51L650.37 284.45L655.77 284.40L661.16 284.36L666.56 284.33L671.95 284.31L677.35 284.30L682.74 284.30L688.14 284.31L693.54 284.33L698.93 284.36L704.33 284.40L709.72 284.45L715.12 284.51L720.52 284.58L725.91 284.66L731.31 284.75L736.70 284.85L742.10 284.96L747.50 285.07L752.89 285.20L758.29 285.34L763.68 285.49L769.08 285.64L774.48 285.81L779.87 285.99L785.27 286.17L790.66 286.37L796.06 286.57L801.46 286.78L806.85 287.01L812.25 287.24L817.64 287.48L823.04 287.73L828.44 287.99L833.83 288.27L839.23 288.55L844.62 288.84L850.02 289.13L855.42 289.44L860.81 289.76L866.21 290.09L871.60 290.43L877.00 290.77" fill="none" stroke="#000" stroke-width="2.4" stroke-linecap="round"/>
<path d="M51.00 390.30L51.50 389.95L51.99 389.69L52.49 389.46L52.99 389.23L53.48 389.01L53.98 388.79L54.48 388.58L54.97 388.37L55.47 388.16L55.97 387.95L56.46 387.74L56.96 387.54L57.46 387.33L57.95 387.13L58.45 386.93L58.95 386.73L59.44 386.53L59.94 386.33L60.44 386.13L60.93 385.94L61.43 385.74L61.93 385.54L62.42 385.35L62.92 385.16L63.42 384.96L63.91 384.77L64.41 384.58L64.91 384.39L65.40 384.19L65.90 384.00L66.40 383.81L66.89 383.62L67.39 383.43L67.89 383.25L68.38 383.06L68.88 382.87L69.38 382.68L69.87 382.49L70.37 382.31L70.87 382.12L71.36 381.94L71.86 381.75L72.36 381.57L72.85 381.38L73.35 381.20L73.85 381.01L74.34 380.83L74.84 380.65L75.34 380.47L75.83 380.28L76.33 380.10L76.83 379.92L77.32 379.74L77.82 379.56L78.32 379.38L78.81 379.20L79.31 379.02L79.81 378.84L80.30 378.66L80.80 378.48L81.30 378.31L81.79 378.13L82.29 377.95L82.79 377.77L83.28 377.60L83.78 377.42L84.28 377.24L84.77 377.07L85.27 376.89L85.77 376.72L86.26 376.54L86.76 376.37L87.26 376.19L87.75 376.02L88.25 375.85L88.74 375.67L89.24 375.50L89.74 375.33L90.23 375.16L90.73 374.98L91.23 374.81L91.72 374.64L92.22 374.47L92.72 374.30L93.21 374.13L93.71 373.96L94.21 373.79L94.70 373.62L95.20 373.45L95.70 373.28L96.19 373.11L96.69 372.94L97.19 372.78L97.68 372.61L98.18 372.44L98.68 372.27L99.17 372.11L99.67 371.94L100.17 371.77L100.66 371.61L101.16 371.44L101.66 371.28L102.15 371.11L102.65 370.95L103.15 370.78L103.64 370.62L104.14 370.45L104.64 370.29L105.13 370.13L105.63 369.96L106.13 369.80L106.62 369.64L107.12 369.47L107.62 369.31L108.11 369.15L108.61 368.99L109.11 368.83L109.60 368.67L110.10 368.50L110.60 368.34L111.09 368.18L111.59 368.02L112.09 367.86L112.58 367.70L113.08 367.55L113.58 367.39L114.07 367.23L114.57 367.07L115.07 366.91L115.56 366.75L116.06 366.60L116.56 366.44L117.05 366.28L117.55 366.12L118.05 365.97L118.54 365.81L119.04 365.65L119.54 365.50L120.03 365.34L120.53 365.19L121.03 365.03L121.52 364.88L122.02 364.72L122.52 364.57L123.01 364.42L123.51 364.26L124.01 364.11L124.50 363.95L125.00 363.80" fill="none" stroke="#000" stroke-width="1.2" />
<path d="M125.00 363.80L130.05 362.26L135.09 360.74L140.14 359.25L145.19 357.79L150.23 356.35L155.28 354.93L160.33 353.53L165.38 352.16L170.42 350.82L175.47 349.49L180.52 348.19L185.56 346.90L190.61 345.64L195.66 344.40L200.70 343.19L205.75 341.99L210.80 340.81L215.85 339.66L220.89 338.52L225.94 337.40L230.99 336.31L236.03 335.23L241.08 334.17L246.13 333.13L251.17 332.10L256.22 331.10L261.27 330.12L266.32 329.15L271.36 328.20L276.41 327.26L281.46 326.35L286.50 325.45L291.55 324.57L296.60 323.70L301.64 322.85L306.69 322.02L311.74 321.20L316.79 320.40L321.83 319.61L326.88 318.84L331.93 318.09L336.97 317.35L342.02 316.62L347.07 315.91L352.11 315.22L357.16 314.54L362.21 313.87L367.26 313.22L372.30 312.58L377.35 311.95L382.40 311.34L387.44 310.74L392.49 310.15L397.54 309.58L402.58 309.02L407.63 308.47L412.68 307.94L417.72 307.42L422.77 306.91L427.82 306.41L432.87 305.93L437.91 305.46L442.96 305.00L448.01 304.55L453.05 304.11L458.10 303.68L463.15 303.27L468.19 302.87L473.24 302.47L478.29 302.09L483.34 301.72L488.38 301.36L493.43 301.02L498.48 300.68L503.52 300.35L508.57 300.04L513.62 299.73L518.66 299.43L523.71 299.15L528.76 298.87L533.81 298.61L538.85 298.35L543.90 298.11L548.95 297.87L553.99 297.65L559.04 297.43L564.09 297.22L569.13 297.03L574.18 296.84L579.23 296.66L584.28 296.49L589.32 296.33L594.37 296.18L599.42 296.04L604.46 295.91L609.51 295.79L614.56 295.68L619.60 295.57L624.65 295.48L629.70 295.39L634.74 295.31L639.79 295.24L644.84 295.18L649.89 295.13L654.93 295.09L659.98 295.06L665.03 295.03L670.07 295.02L675.12 295.01L680.17 295.01L685.21 295.02L690.26 295.04L695.31 295.07L700.36 295.10L705.40 295.15L710.45 295.20L715.50 295.27L720.54 295.34L725.59 295.42L730.64 295.51L735.68 295.60L740.73 295.71L745.78 295.82L750.83 295.95L755.87 296.08L760.92 296.22L765.97 296.37L771.01 296.53L776.06 296.70L781.11 296.88L786.15 297.06L791.20 297.26L796.25 297.46L801.30 297.67L806.34 297.90L811.39 298.13L816.44 298.37L821.48 298.62L826.53 298.88L831.58 299.15L836.62 299.43L841.67 299.71L846.72 300.01L851.77 300.32L856.81 300.63L861.86 300.96L866.91 301.30L871.95 301.64L877.00 302.00" fill="none" stroke="#000" stroke-width="3.6" stroke-linecap="round"/>
<path d="M51.20 390.30L61.86 390.24L72.52 390.05L83.19 389.74L93.85 389.30L104.51 388.74L115.17 388.05L125.83 387.24L136.50 386.31L147.16 385.25L157.82 384.06L168.48 382.75L179.14 381.32L189.81 379.76L200.47 378.07L211.13 376.26L221.79 374.33L232.45 372.27L243.12 370.09L253.78 367.78L264.44 365.35L275.10 362.79L285.76 360.11L296.43 357.30L307.09 354.37L317.75 351.31L328.41 348.13L339.07 344.82L349.74 341.39L360.40 337.83L371.06 334.15L381.72 330.35L392.38 326.42L403.04 322.36L413.71 318.18L424.37 313.88L435.03 309.45L445.69 304.90L456.35 300.22L467.02 295.41L477.68 290.49L488.34 285.43L499.00 280.25L509.66 274.95L520.33 269.52L530.99 263.97L541.65 258.29L552.31 252.49L562.97 246.57L573.64 240.52L584.30 234.34L594.96 228.04L605.62 221.61L616.28 215.06L626.95 208.39L637.61 201.59L648.27 194.66L658.93 187.61L669.59 180.44L680.26 173.14" fill="none" stroke="#ff3030" stroke-width="0.9"/>
<circle cx="680" cy="284.2" r="6" fill="#ff0000"/>
<circle cx="680" cy="294.8" r="6" fill="#ff0000"/>
<circle cx="680.3" cy="173.3" r="6.3" fill="#ffff00" stroke="#ff0000" stroke-width="2"/>
<path d="M542.65 257.76L549.89 253.82L557.13 249.83L564.38 245.78L571.62 241.67L578.86 237.50L586.10 233.28L593.35 229.00L600.59 224.66L607.83 220.27L615.07 215.81L622.32 211.30L629.56 206.73L636.80 202.11L644.04 197.42L651.29 192.68L658.53 187.88L665.77 183.03L673.01 178.11L680.26 173.14" fill="none" stroke="#ff4040" stroke-width="0.9"/>
<line x1="51" y1="173.5" x2="680.5" y2="173.5" stroke="#000" stroke-width="1"/>
<line x1="680.5" y1="173" x2="680.5" y2="390" stroke="#333" stroke-width="1"/>
<line x1="51" y1="0" x2="51" y2="391" stroke="#000" stroke-width="2"/>
<line x1="959" y1="0" x2="959" y2="391" stroke="#000" stroke-width="2"/>
<line x1="44" y1="390.3" x2="966.5" y2="390.3" stroke="#000" stroke-width="2"/>
<line x1="44" y1="390.30" x2="51" y2="390.30" stroke="#000" stroke-width="2"/>
<line x1="44" y1="365.90" x2="51" y2="365.90" stroke="#000" stroke-width="2"/>
<line x1="44" y1="341.50" x2="51" y2="341.50" stroke="#000" stroke-width="2"/>
<line x1="44" y1="317.10" x2="51" y2="317.10" stroke="#000" stroke-width="2"/>
<line x1="44" y1="292.70" x2="51" y2="292.70" stroke="#000" stroke-width="2"/>
<line x1="44" y1="268.30" x2="51" y2="268.30" stroke="#000" stroke-width="2"/>
<line x1="44" y1="243.90" x2="51" y2="243.90" stroke="#000" stroke-width="2"/>
<line x1="44" y1="219.50" x2="51" y2="219.50" stroke="#000" stroke-width="2"/>
<line x1="44" y1="195.10" x2="51" y2="195.10" stroke="#000" stroke-width="2"/>
<line x1="44" y1="170.70" x2="51" y2="170.70" stroke="#000" stroke-width="2"/>
<line x1="44" y1="146.30" x2="51" y2="146.30" stroke="#000" stroke-width="2"/>
<line x1="44" y1="121.90" x2="51" y2="121.90" stroke="#000" stroke-width="2"/>
<line x1="44" y1="97.50" x2="51" y2="97.50" stroke="#000" stroke-width="2"/>
<line x1="44" y1="73.10" x2="51" y2="73.10" stroke="#000" stroke-width="2"/>
<line x1="44" y1="48.70" x2="51" y2="48.70" stroke="#000" stroke-width="2"/>
<line x1="51.20" y1="390" x2="51.20" y2="397.5" stroke="#000" stroke-width="2"/>
<line x1="100.34" y1="390" x2="100.34" y2="397.5" stroke="#000" stroke-width="2"/>
<line x1="149.49" y1="390" x2="149.49" y2="397.5" stroke="#000" stroke-width="2"/>
<line x1="198.63" y1="390" x2="198.63" y2="397.5" stroke="#000" stroke-width="2"/>
<line x1="247.78" y1="390" x2="247.78" y2="397.5" stroke="#000" stroke-width="2"/>
<line x1="296.93" y1="390" x2="296.93" y2="397.5" stroke="#000" stroke-width="2"/>
<line x1="346.07" y1="390" x2="346.07" y2="397.5" stroke="#000" stroke-width="2"/>
<line x1="395.22" y1="390" x2="395.22" y2="397.5" stroke="#000" stroke-width="2"/>
<line x1="444.36" y1="390" x2="444.36" y2="397.5" stroke="#000" stroke-width="2"/>
<line x1="493.50" y1="390" x2="493.50" y2="397.5" stroke="#000" stroke-width="2"/>
<line x1="542.65" y1="390" x2="542.65" y2="397.5" stroke="#000" stroke-width="2"/>
<line x1="591.80" y1="390" x2="591.80" y2="397.5" stroke="#000" stroke-width="2"/>
<line x1="640.94" y1="390" x2="640.94" y2="397.5" stroke="#000" stroke-width="2"/>
<line x1="690.09" y1="390" x2="690.09" y2="397.5" stroke="#000" stroke-width="2"/>
<line x1="739.23" y1="390" x2="739.23" y2="397.5" stroke="#000" stroke-width="2"/>
<line x1="788.38" y1="390" x2="788.38" y2="397.5" stroke="#000" stroke-width="2"/>
<line x1="837.52" y1="390" x2="837.52" y2="397.5" stroke="#000" stroke-width="2"/>
<line x1="886.67" y1="390" x2="886.67" y2="397.5" stroke="#000" stroke-width="2"/>
<line x1="935.81" y1="390" x2="935.81" y2="397.5" stroke="#000" stroke-width="2"/>
<line x1="959" y1="390.30" x2="966.5" y2="390.30" stroke="#000" stroke-width="2"/>
<line x1="959" y1="365.90" x2="966.5" y2="365.90" stroke="#000" stroke-width="2"/>
<line x1="959" y1="341.50" x2="966.5" y2="341.50" stroke="#000" stroke-width="2"/>
<line x1="959" y1="317.10" x2="966.5" y2="317.10" stroke="#000" stroke-width="2"/>
<line x1="959" y1="292.70" x2="966.5" y2="292.70" stroke="#000" stroke-width="2"/>
<line x1="959" y1="268.30" x2="966.5" y2="268.30" stroke="#000" stroke-width="2"/>
<text x="38.0" y="395.4" text-anchor="end" font-family="Liberation Sans, sans-serif" font-size="16" >0</text>
<text x="38.0" y="371.0" text-anchor="end" font-family="Liberation Sans, sans-serif" font-size="16" >1</text>
<text x="38.0" y="346.6" text-anchor="end" font-family="Liberation Sans, sans-serif" font-size="16" >2</text>
<text x="38.0" y="322.2" text-anchor="end" font-family="Liberation Sans, sans-serif" font-size="16" >3</text>
<text x="38.0" y="297.8" text-anchor="end" font-family="Liberation Sans, sans-serif" font-size="16" >4</text>
<text x="38.0" y="273.4" text-anchor="end" font-family="Liberation Sans, sans-serif" font-size="16" >5</text>
<text x="38.0" y="249.0" text-anchor="end" font-family="Liberation Sans, sans-serif" font-size="16" >6</text>
<text x="38.0" y="224.6" text-anchor="end" font-family="Liberation Sans, sans-serif" font-size="16" >7</text>
<text x="38.0" y="200.2" text-anchor="end" font-family="Liberation Sans, sans-serif" font-size="16" >8</text>
<text x="38.0" y="175.8" text-anchor="end" font-family="Liberation Sans, sans-serif" font-size="16" >9</text>
<text x="38.0" y="151.4" text-anchor="end" font-family="Liberation Sans, sans-serif" font-size="16" >10</text>
<text x="38.0" y="127.0" text-anchor="end" font-family="Liberation Sans, sans-serif" font-size="16" >11</text>
<text x="38.0" y="102.6" text-anchor="end" font-family="Liberation Sans, sans-serif" font-size="16" >12</text>
<text x="38.0" y="78.2" text-anchor="end" font-family="Liberation Sans, sans-serif" font-size="16" >13</text>
<text x="51.0" y="412.8" text-anchor="middle" font-family="Liberation Sans, sans-serif" font-size="16" >0</text>
<text x="100.3" y="412.8" text-anchor="middle" font-family="Liberation Sans, sans-serif" font-size="16" >5</text>
<text x="149.5" y="412.8" text-anchor="middle" font-family="Liberation Sans, sans-serif" font-size="16" >10</text>
<text x="198.6" y="412.8" text-anchor="middle" font-family="Liberation Sans, sans-serif" font-size="16" >15</text>
<text x="247.8" y="412.8" text-anchor="middle" font-family="Liberation Sans, sans-serif" font-size="16" >20</text>
<text x="296.9" y="412.8" text-anchor="middle" font-family="Liberation Sans, sans-serif" font-size="16" >25</text>
<text x="346.1" y="412.8" text-anchor="middle" font-family="Liberation Sans, sans-serif" font-size="16" >30</text>
<text x="395.2" y="412.8" text-anchor="middle" font-family="Liberation Sans, sans-serif" font-size="16" >35</text>
<text x="444.4" y="412.8" text-anchor="middle" font-family="Liberation Sans, sans-serif" font-size="16" >40</text>
<text x="493.5" y="412.8" text-anchor="middle" font-family="Liberation Sans, sans-serif" font-size="16" >45</text>
<text x="542.7" y="412.8" text-anchor="middle" font-family="Liberation Sans, sans-serif" font-size="16" >50</text>
<text x="591.8" y="412.8" text-anchor="middle" font-family="Liberation Sans, sans-serif" font-size="16" >55</text>
<text x="640.9" y="412.8" text-anchor="middle" font-family="Liberation Sans, sans-serif" font-size="16" >60</text>
<text x="690.1" y="412.8" text-anchor="middle" font-family="Liberation Sans, sans-serif" font-size="16" >65</text>
<text x="739.2" y="412.8" text-anchor="middle" font-family="Liberation Sans, sans-serif" font-size="16" >70</text>
<text x="788.4" y="412.8" text-anchor="middle" font-family="Liberation Sans, sans-serif" font-size="16" >75</text>
<text x="837.5" y="412.8" text-anchor="middle" font-family="Liberation Sans, sans-serif" font-size="16" >80</text>
<rect x="886" y="396" width="62" height="22" fill="#fff"/>
<text x="888.0" y="412.5" text-anchor="start" font-family="Liberation Sans, sans-serif" font-size="16" textLength="62.3" lengthAdjust="spacing">Q [m³/h]</text>
<text x="971.5" y="395.0" text-anchor="start" font-family="Liberation Sans, sans-serif" font-size="16" >0</text>
<text x="971.5" y="370.6" text-anchor="start" font-family="Liberation Sans, sans-serif" font-size="16" >20</text>
<text x="971.5" y="346.2" text-anchor="start" font-family="Liberation Sans, sans-serif" font-size="16" >40</text>
<text x="971.5" y="321.8" text-anchor="start" font-family="Liberation Sans, sans-serif" font-size="16" >60</text>
<text x="971.5" y="297.4" text-anchor="start" font-family="Liberation Sans, sans-serif" font-size="16" >80</text>
<text x="971.5" y="273.0" text-anchor="start" font-family="Liberation Sans, sans-serif" font-size="16" >100</text>
<text x="31.0" y="14.8" text-anchor="middle" font-family="Liberation Sans, sans-serif" font-size="16" >H</text>
<text x="31.0" y="35.0" text-anchor="middle" font-family="Liberation Sans, sans-serif" font-size="16" >[m]</text>
<text x="981.0" y="14.8" text-anchor="middle" font-family="Liberation Sans, sans-serif" font-size="16" >eta</text>
<text x="981.0" y="35.0" text-anchor="middle" font-family="Liberation Sans, sans-serif" font-size="16" >[%]</text>
<rect x="741.5" y="0.5" width="217" height="32" fill="#fff" stroke="#9a9a9a" stroke-width="1.2"/>
<text x="747.5" y="18.8" text-anchor="start" font-family="Liberation Sans, sans-serif" font-size="16" textLength="190.3" lengthAdjust="spacing">NKE 65-160/177, 3*400 V</text>
<text x="325.5" y="66.8" text-anchor="start" font-family="Liberation Sans, sans-serif" font-size="16" >110 %</text>
<text x="305.3" y="120.9" text-anchor="start" font-family="Liberation Sans, sans-serif" font-size="16" fill="#000">100 %</text>
<text x="306.8" y="119.9" text-anchor="start" font-family="Liberation Sans, sans-serif" font-size="16" fill="#000" opacity="0.85">100 %</text>
<text x="54.5" y="446.0" text-anchor="start" font-family="Liberation Sans, sans-serif" font-size="16" textLength="89.6" lengthAdjust="spacing">Q = 64 m³/h</text>
<text x="54.5" y="467.3" text-anchor="start" font-family="Liberation Sans, sans-serif" font-size="16" textLength="160.5" lengthAdjust="spacing">n = 100 % / 1452 rpm</text>
<text x="54.5" y="488.6" text-anchor="start" font-family="Liberation Sans, sans-serif" font-size="16" textLength="329.7" lengthAdjust="spacing">Liquid temperature during operation = 20 °C</text>
<text x="54.5" y="509.7" text-anchor="start" font-family="Liberation Sans, sans-serif" font-size="16" textLength="142" lengthAdjust="spacing">Eta pump = 87.1 %</text>
<text x="439.5" y="446.0" text-anchor="start" font-family="Liberation Sans, sans-serif" font-size="16" textLength="73.8" lengthAdjust="spacing">H = 8.9 m</text>
<text x="439.5" y="467.3" text-anchor="start" font-family="Liberation Sans, sans-serif" font-size="16" textLength="170.6" lengthAdjust="spacing">Pumped liquid = Water</text>
<text x="439.5" y="488.6" text-anchor="start" font-family="Liberation Sans, sans-serif" font-size="16" textLength="166.1" lengthAdjust="spacing">Density = 998.2 kg/m³</text>
<text x="439.5" y="509.7" text-anchor="start" font-family="Liberation Sans, sans-serif" font-size="16" textLength="310.5" lengthAdjust="spacing">Eta pump+motor+freq.converter = 78.3 %</text>
<path d="M51.00 625.70L59.34 624.86L67.69 624.01L76.03 623.15L84.37 622.28L92.72 621.39L101.06 620.49L109.40 619.57L117.75 618.64L126.09 617.68L134.43 616.71L142.78 615.72L151.12 614.71L159.46 613.68L167.81 612.63L176.15 611.56L184.49 610.48L192.84 609.39L201.18 608.28L209.53 607.17L217.87 606.05L226.21 604.92L234.56 603.79L242.90 602.66L251.24 601.53L259.59 600.40L267.93 599.27L276.27 598.15L284.62 597.03L292.96 595.93L301.30 594.83L309.65 593.74L317.99 592.64L326.33 591.54L334.68 590.44L343.02 589.34L351.36 588.24L359.71 587.14L368.05 586.04L376.39 584.94L384.74 583.84L393.08 582.74L401.42 581.64L409.77 580.54L418.11 579.45L426.45 578.35L434.80 577.26L443.14 576.18L451.48 575.09L459.83 574.01L468.17 572.93L476.52 571.86L484.86 570.79L493.20 569.73L501.55 568.66L509.89 567.61L518.23 566.55L526.58 565.50L534.92 564.45L543.26 563.41L551.61 562.36L559.95 561.32L568.29 560.28L576.64 559.25L584.98 558.22L593.32 557.19L601.67 556.16L610.01 555.13L618.35 554.11L626.70 553.09L635.04 552.08L643.38 551.06L651.73 550.20L660.07 550.18L668.41 550.17L676.76 550.15L685.10 550.14L693.44 550.12L701.79 550.11L710.13 550.09L718.47 550.08L726.82 550.07L735.16 550.05L743.51 550.04L751.85 550.02L760.19 550.01L768.54 549.99L776.88 549.98L785.22 549.96L793.57 549.95L801.91 549.93L810.25 549.92L818.60 549.90L826.94 549.89L835.28 549.87L843.63 549.86L851.97 549.84L860.31 549.83L868.66 549.81L877.00 549.80L877.00 599.80L876.60 599.80L866.15 603.09L855.70 606.29L845.26 609.42L834.81 612.46L824.36 615.42L813.91 618.30L803.46 621.11L793.02 623.84L782.57 626.49L772.12 629.07L761.67 631.57L751.22 634.00L740.77 636.36L730.33 638.65L719.88 640.87L709.43 643.02L698.98 645.11L688.53 647.13L678.09 649.08L667.64 650.97L657.19 652.79L646.74 654.56L636.29 656.26L625.85 657.91L615.40 659.49L604.95 661.02L594.50 662.49L584.05 663.90L573.61 665.27L563.16 666.57L552.71 667.83L542.26 669.03L531.81 670.19L521.36 671.29L510.92 672.35L500.47 673.36L490.02 674.32L479.57 675.24L469.12 676.12L458.68 676.95L448.23 677.74L437.78 678.49L427.33 679.20L416.88 679.87L406.44 680.51L395.99 681.11L385.54 681.67L375.09 682.20L364.64 682.70L354.19 683.16L343.75 683.60L333.30 684.00L322.85 684.37L312.40 684.72L301.95 685.04L291.51 685.34L281.06 685.61L270.61 685.85L260.16 686.08L249.71 686.28L239.27 686.46L228.82 686.63L218.37 686.77L207.92 686.90L197.47 687.01L187.03 687.11L176.58 687.19L166.13 687.26L155.68 687.32L145.23 687.37L134.78 687.41L124.34 687.44L113.89 687.46L103.44 687.48L92.99 687.49L82.54 687.50L72.10 687.50L61.65 687.50L51.20 687.50 Z" fill="#eff6fe"/>
<path d="M137.50 616.35L144.97 615.46L152.44 614.55L159.91 613.62L167.38 612.68L174.85 611.73L182.32 610.76L189.79 609.79L197.26 608.80L204.73 607.81L212.20 606.81L219.67 605.80L227.14 604.80L234.61 603.78L242.08 602.77L249.55 601.76L257.02 600.74L264.48 599.73L271.95 598.73L279.42 597.72L286.89 596.73L294.36 595.74L301.83 594.76L309.30 593.78L316.77 592.80L324.24 591.82L331.71 590.83L339.18 589.85L346.65 588.87L354.12 587.88L361.59 586.89L369.06 585.91L376.53 584.92L384.00 583.94L391.47 582.95L398.94 581.97L406.41 580.98L413.88 580.00L421.35 579.02L428.82 578.05L436.29 577.07L443.76 576.10L451.23 575.12L458.70 574.16L466.17 573.19L473.64 572.23L481.11 571.27L488.58 570.31L496.05 569.36L503.52 568.41L510.98 567.47L518.45 566.52L525.92 565.58L533.39 564.64L540.86 563.71L548.33 562.77L555.80 561.84L563.27 560.91L570.74 559.98L578.21 559.05L585.68 558.13L593.15 557.21L600.62 556.29L608.09 555.37L615.56 554.45L623.03 553.54L630.50 552.63L637.97 551.72L645.44 550.81L652.91 550.20L660.38 550.18L667.85 550.17L675.32 550.16L682.79 550.14L690.26 550.13L697.73 550.12L705.20 550.10L712.67 550.09L720.14 550.08L727.61 550.06L735.08 550.05L742.55 550.04L750.02 550.02L757.48 550.01L764.95 550.00L772.42 549.98L779.89 549.97L787.36 549.96L794.83 549.95L802.30 549.93L809.77 549.92L817.24 549.91L824.71 549.89L832.18 549.88L839.65 549.87L847.12 549.85L854.59 549.84L862.06 549.83L869.53 549.81L877.00 549.80L877.00 599.80L876.60 599.80L866.15 603.09L855.70 606.29L845.26 609.42L834.81 612.46L824.36 615.42L813.91 618.30L803.46 621.11L793.02 623.84L782.57 626.49L772.12 629.07L761.67 631.57L751.22 634.00L740.77 636.36L730.33 638.65L719.88 640.87L709.43 643.02L698.98 645.11L688.53 647.13L678.09 649.08L667.64 650.97L657.19 652.79L646.74 654.56L636.29 656.26L625.85 657.91L615.40 659.49L604.95 661.02L594.50 662.49L584.05 663.90L573.61 665.27L563.16 666.57L552.71 667.83L542.26 669.03L531.81 670.19L521.36 671.29L510.92 672.35L500.47 673.36L490.02 674.32L479.57 675.24L469.12 676.12L458.68 676.95L448.23 677.74L437.78 678.49L427.33 679.20L416.88 679.87L406.44 680.51L395.99 681.11L385.54 681.67L375.09 682.20L364.64 682.70L354.19 683.16L343.75 683.60L333.30 684.00L322.85 684.37L312.40 684.72L301.95 685.04L291.51 685.34L281.06 685.61L270.61 685.85L260.16 686.08L249.71 686.28L239.27 686.46L228.82 686.63L218.37 686.77L207.92 686.90L197.47 687.01L187.03 687.11L176.58 687.19L166.13 687.26L155.68 687.32L145.23 687.37L134.78 687.41L124.34 687.44L113.89 687.46L103.44 687.48L92.99 687.49L82.54 687.50L73.00 686.38L75.22 686.00L77.45 685.54L79.67 685.00L81.90 684.37L84.12 683.64L86.34 682.81L88.57 681.86L90.79 680.79L93.02 679.59L95.24 678.26L97.47 676.79L99.69 675.17L101.91 673.40L104.14 671.46L106.36 669.35L108.59 667.06L110.81 664.60L113.03 661.94L115.26 659.08L117.48 656.01L119.71 652.73L121.93 649.24L124.16 645.51L126.38 641.55L128.60 637.35L130.83 632.91L133.05 628.20L135.28 623.24L137.50 618.00 Z" fill="#d0dce8"/>
<line x1="100.34" y1="520" x2="100.34" y2="687" stroke="rgba(182,184,187,0.58)" stroke-width="1.3"/>
<line x1="149.49" y1="520" x2="149.49" y2="687" stroke="rgba(182,184,187,0.58)" stroke-width="1.3"/>
<line x1="198.63" y1="520" x2="198.63" y2="687" stroke="rgba(182,184,187,0.58)" stroke-width="1.3"/>
<line x1="247.78" y1="520" x2="247.78" y2="687" stroke="rgba(182,184,187,0.58)" stroke-width="1.3"/>
<line x1="296.93" y1="520" x2="296.93" y2="687" stroke="rgba(182,184,187,0.58)" stroke-width="1.3"/>
<line x1="346.07" y1="520" x2="346.07" y2="687" stroke="rgba(182,184,187,0.58)" stroke-width="1.3"/>
<line x1="395.22" y1="520" x2="395.22" y2="687" stroke="rgba(182,184,187,0.58)" stroke-width="1.3"/>
<line x1="444.36" y1="520" x2="444.36" y2="687" stroke="rgba(182,184,187,0.58)" stroke-width="1.3"/>
<line x1="493.50" y1="520" x2="493.50" y2="687" stroke="rgba(182,184,187,0.58)" stroke-width="1.3"/>
<line x1="542.65" y1="520" x2="542.65" y2="687" stroke="rgba(182,184,187,0.58)" stroke-width="1.3"/>
<line x1="591.80" y1="520" x2="591.80" y2="687" stroke="rgba(182,184,187,0.58)" stroke-width="1.3"/>
<line x1="640.94" y1="520" x2="640.94" y2="687" stroke="rgba(182,184,187,0.58)" stroke-width="1.3"/>
<line x1="690.09" y1="520" x2="690.09" y2="687" stroke="rgba(182,184,187,0.58)" stroke-width="1.3"/>
<line x1="739.23" y1="520" x2="739.23" y2="687" stroke="rgba(182,184,187,0.58)" stroke-width="1.3"/>
<line x1="788.38" y1="520" x2="788.38" y2="687" stroke="rgba(182,184,187,0.58)" stroke-width="1.3"/>
<line x1="837.52" y1="520" x2="837.52" y2="687" stroke="rgba(182,184,187,0.58)" stroke-width="1.3"/>
<line x1="886.67" y1="520" x2="886.67" y2="687" stroke="rgba(182,184,187,0.58)" stroke-width="1.3"/>
<line x1="935.81" y1="520" x2="935.81" y2="687" stroke="rgba(182,184,187,0.58)" stroke-width="1.3"/>
<line x1="51" y1="631.78" x2="959" y2="631.78" stroke="rgba(182,184,187,0.58)" stroke-width="1.3"/>
<line x1="51" y1="576.06" x2="959" y2="576.06" stroke="rgba(182,184,187,0.58)" stroke-width="1.3"/>
<path d="M51.00 625.70L60.00 624.80L69.00 623.88L78.00 622.95L87.00 622.00L96.00 621.04L105.00 620.06L114.00 619.06L123.00 618.04L132.00 617.00" fill="none" stroke="#004a8f" stroke-width="1.1"/>
<path d="M132.00 617.00L139.53 616.11L147.05 615.21L154.58 614.28L162.10 613.35L169.63 612.40L177.15 611.43L184.68 610.46L192.20 609.47L199.73 608.47L207.25 607.47L214.78 606.46L222.30 605.45L229.83 604.43L237.35 603.41L244.88 602.39L252.40 601.37L259.93 600.35L267.45 599.33L274.98 598.32L282.51 597.31L290.03 596.31L297.56 595.32L305.08 594.33L312.61 593.35L320.13 592.36L327.66 591.37L335.18 590.38L342.71 589.39L350.23 588.39L357.76 587.40L365.28 586.41L372.81 585.41L380.33 584.42L387.86 583.43L395.38 582.44L402.91 581.45L410.43 580.46L417.96 579.47L425.48 578.48L433.01 577.50L440.54 576.52L448.06 575.54L455.59 574.56L463.11 573.59L470.64 572.61L478.16 571.65L485.69 570.68L493.21 569.72L500.74 568.77L508.26 567.81L515.79 566.86L523.31 565.91L530.84 564.96L538.36 564.02L545.89 563.08L553.41 562.14L560.94 561.20L568.46 560.26L575.99 559.33L583.52 558.40L591.04 557.47L598.57 556.54L606.09 555.62L613.62 554.69L621.14 553.77L628.67 552.85L636.19 551.94L643.72 551.02L651.24 550.20L658.77 550.19L666.29 550.17L673.82 550.16L681.34 550.15L688.87 550.13L696.39 550.12L703.92 550.11L711.44 550.09L718.97 550.08L726.49 550.07L734.02 550.05L741.55 550.04L749.07 550.03L756.60 550.01L764.12 550.00L771.65 549.99L779.17 549.97L786.70 549.96L794.22 549.95L801.75 549.93L809.27 549.92L816.80 549.91L824.32 549.89L831.85 549.88L839.37 549.87L846.90 549.85L854.42 549.84L861.95 549.83L869.47 549.81L877.00 549.80" fill="none" stroke="#004a8f" stroke-width="2.3"/>
<path d="M51.00 631.90L58.59 631.17L66.18 630.42L73.77 629.67L81.35 628.92L88.94 628.16L96.53 627.39L104.12 626.61L111.71 625.82L119.30 625.03L126.89 624.24L134.47 623.43L142.06 622.63L149.65 621.81L157.24 620.99L164.83 620.16L172.42 619.33L180.01 618.49L187.59 617.64L195.18 616.79L202.77 615.93L210.36 615.07L217.95 614.20L225.54 613.33L233.13 612.45L240.72 611.57L248.30 610.68L255.89 609.79L263.48 608.89L271.07 607.98L278.66 607.08L286.25 606.16L293.84 605.25L301.42 604.33L309.01 603.38L316.60 602.40L324.19 601.40L331.78 600.37L339.37 599.32L346.96 598.25L354.54 597.17L362.13 596.07L369.72 594.97L377.31 593.86L384.90 592.75L392.49 591.63L400.08 590.53L407.66 589.43L415.25 588.34L422.84 587.26L430.43 586.20L438.02 585.17L445.61 584.15L453.20 583.16L460.78 582.20L468.37 581.28L475.96 580.39L483.55 579.54L491.14 578.73L498.73 577.96L506.32 577.20L513.91 576.46L521.49 575.72L529.08 575.00L536.67 574.29L544.26 573.59L551.85 572.91L559.44 572.24L567.03 571.59L574.61 570.95L582.20 570.33L589.79 569.72L597.38 569.13L604.97 568.56L612.56 568.00L620.15 567.46L627.73 566.95L635.32 566.44L642.91 565.96L650.50 565.50L877.00 565.00" fill="none" stroke="#004a8f" stroke-width="1.1"/>
<path d="M51.00 641.30L51.94 641.21L52.87 641.12L53.81 641.03L54.75 640.93L55.68 640.84L56.62 640.75L57.56 640.66L58.49 640.57L59.43 640.48L60.37 640.39L61.30 640.29L62.24 640.20L63.18 640.11L64.11 640.02L65.05 639.93L65.99 639.84L66.92 639.74L67.86 639.65L68.80 639.56L69.73 639.47L70.67 639.38L71.61 639.29L72.54 639.19L73.48 639.10L74.42 639.01L75.35 638.92L76.29 638.83L77.23 638.73L78.16 638.64L79.10 638.55L80.04 638.46L80.97 638.37L81.91 638.27L82.85 638.18L83.78 638.09L84.72 638.00L85.66 637.90L86.59 637.81L87.53 637.72L88.47 637.63L89.41 637.54L90.34 637.44L91.28 637.35L92.22 637.26L93.15 637.17L94.09 637.07L95.03 636.98L95.96 636.89L96.90 636.80L97.84 636.70L98.77 636.61L99.71 636.52L100.65 636.43L101.58 636.33L102.52 636.24L103.46 636.15L104.39 636.05L105.33 635.96L106.27 635.87L107.20 635.78L108.14 635.68L109.08 635.59L110.01 635.50L110.95 635.40L111.89 635.31L112.82 635.22L113.76 635.12L114.70 635.03L115.63 634.94L116.57 634.84L117.51 634.75L118.44 634.66L119.38 634.56L120.32 634.47L121.25 634.38L122.19 634.28L123.13 634.19L124.06 634.09L125.00 634.00" fill="none" stroke="#004a8f" stroke-width="1.1" />
<path d="M125.00 634.00L134.52 633.04L144.04 632.09L153.56 631.12L163.08 630.16L172.59 629.19L182.11 628.22L191.63 627.25L201.15 626.27L210.67 625.30L220.19 624.32L229.71 623.34L239.23 622.36L248.75 621.38L258.27 620.40L267.78 619.42L277.30 618.44L286.82 617.46L296.34 616.48L305.86 615.50L315.38 614.52L324.90 613.53L334.42 612.55L343.94 611.57L353.46 610.58L362.97 609.60L372.49 608.61L382.01 607.62L391.53 606.64L401.05 605.65L410.57 604.66L420.09 603.68L429.61 602.69L439.13 601.70L448.65 600.72L458.16 599.73L467.68 598.75L477.20 597.77L486.72 596.79L496.24 595.81L505.76 594.81L515.28 593.79L524.80 592.75L534.32 591.70L543.84 590.65L553.35 589.59L562.87 588.52L572.39 587.46L581.91 586.41L591.43 585.37L600.95 584.35L610.47 583.35L619.99 582.37L629.51 581.42L639.03 580.50L648.54 579.61L658.06 578.77L667.58 577.97L677.10 577.22L686.62 576.51L696.14 575.81L705.66 575.12L715.18 574.45L724.70 573.78L734.22 573.13L743.73 572.49L753.25 571.87L762.77 571.26L772.29 570.67L781.81 570.10L791.33 569.54L800.85 569.01L810.37 568.49L819.89 567.99L829.41 567.52L838.92 567.07L848.44 566.64L857.96 566.23L867.48 565.85L877.00 565.50" fill="none" stroke="#004a8f" stroke-width="4.0" />
<path d="M51.00 645.00L51.94 644.91L52.87 644.83L53.81 644.74L54.75 644.66L55.68 644.57L56.62 644.48L57.56 644.40L58.49 644.31L59.43 644.23L60.37 644.14L61.30 644.06L62.24 643.97L63.18 643.88L64.11 643.80L65.05 643.71L65.99 643.63L66.92 643.54L67.86 643.46L68.80 643.37L69.73 643.28L70.67 643.20L71.61 643.11L72.54 643.03L73.48 642.94L74.42 642.86L75.35 642.77L76.29 642.69L77.23 642.60L78.16 642.51L79.10 642.43L80.04 642.34L80.97 642.26L81.91 642.17L82.85 642.09L83.78 642.00L84.72 641.92L85.66 641.83L86.59 641.75L87.53 641.66L88.47 641.58L89.41 641.49L90.34 641.41L91.28 641.32L92.22 641.24L93.15 641.15L94.09 641.07L95.03 640.98L95.96 640.90L96.90 640.82L97.84 640.73L98.77 640.65L99.71 640.56L100.65 640.48L101.58 640.39L102.52 640.31L103.46 640.22L104.39 640.14L105.33 640.06L106.27 639.97L107.20 639.89L108.14 639.80L109.08 639.72L110.01 639.64L110.95 639.55L111.89 639.47L112.82 639.38L113.76 639.30L114.70 639.22L115.63 639.13L116.57 639.05L117.51 638.97L118.44 638.88L119.38 638.80L120.32 638.72L121.25 638.63L122.19 638.55L123.13 638.47L124.06 638.38L125.00 638.30" fill="none" stroke="#004a8f" stroke-width="1.1" />
<path d="M125.00 638.30L134.52 637.46L144.04 636.63L153.56 635.80L163.08 634.97L172.59 634.15L182.11 633.34L191.63 632.53L201.15 631.71L210.67 630.90L220.19 630.09L229.71 629.28L239.23 628.47L248.75 627.66L258.27 626.84L267.78 626.02L277.30 625.19L286.82 624.36L296.34 623.52L305.86 622.68L315.38 621.83L324.90 620.98L334.42 620.13L343.94 619.27L353.46 618.41L362.97 617.55L372.49 616.69L382.01 615.82L391.53 614.95L401.05 614.08L410.57 613.21L420.09 612.34L429.61 611.46L439.13 610.59L448.65 609.71L458.16 608.84L467.68 607.96L477.20 607.09L486.72 606.21L496.24 605.34L505.76 604.45L515.28 603.54L524.80 602.61L534.32 601.68L543.84 600.74L553.35 599.79L562.87 598.84L572.39 597.89L581.91 596.94L591.43 596.01L600.95 595.09L610.47 594.18L619.99 593.29L629.51 592.42L639.03 591.57L648.54 590.76L658.06 589.97L667.58 589.22L677.10 588.51L686.62 587.83L696.14 587.16L705.66 586.50L715.18 585.85L724.70 585.21L734.22 584.58L743.73 583.97L753.25 583.36L762.77 582.77L772.29 582.20L781.81 581.63L791.33 581.08L800.85 580.55L810.37 580.03L819.89 579.53L829.41 579.05L838.92 578.58L848.44 578.13L857.96 577.70L867.48 577.29L877.00 576.90" fill="none" stroke="#004a8f" stroke-width="2.5" />
<path d="M51.00 669.80L52.03 669.81L53.05 669.82L54.08 669.83L55.10 669.84L56.13 669.84L57.15 669.85L58.18 669.86L59.20 669.87L60.23 669.88L61.25 669.89L62.28 669.90L63.30 669.91L64.33 669.91L65.35 669.92L66.38 669.93L67.41 669.94L68.43 669.95L69.46 669.96L70.48 669.97L71.51 669.98L72.53 669.98L73.56 669.99L74.58 670.00L75.61 670.01L76.63 670.02L77.66 670.03L78.68 670.04L79.71 670.05L80.73 670.05L81.76 670.06L82.78 670.07L83.81 670.08L84.84 670.09L85.86 670.10L86.89 670.11L87.91 670.12L88.94 670.13L89.96 670.13L90.99 670.14L92.01 670.15L93.04 670.16L94.06 670.17L95.09 670.18L96.11 670.19L97.14 670.20L98.16 670.21L99.19 670.21L100.22 670.22L101.24 670.23L102.27 670.24L103.29 670.25L104.32 670.26L105.34 670.27L106.37 670.28L107.39 670.29L108.42 670.29L109.44 670.30L110.47 670.31L111.49 670.32L112.52 670.33L113.54 670.34L114.57 670.35L115.59 670.36L116.62 670.37L117.65 670.37L118.67 670.38L119.70 670.39L120.72 670.40L121.75 670.41L122.77 670.42L123.80 670.43L124.82 670.44L125.85 670.45L126.87 670.46L127.90 670.46L128.92 670.47L129.95 670.48L130.97 670.49L132.00 670.50" fill="none" stroke="#555" stroke-width="1.0" />
<path d="M132.00 670.50L134.63 670.52L137.27 670.55L139.90 670.57L142.53 670.59L145.16 670.61L147.80 670.63L150.43 670.65L153.06 670.67L155.70 670.69L158.33 670.71L160.96 670.73L163.59 670.75L166.23 670.77L168.86 670.79L171.49 670.81L174.13 670.83L176.76 670.85L179.39 670.86L182.03 670.88L184.66 670.90L187.29 670.92L189.92 670.94L192.56 670.96L195.19 670.98L197.82 671.00L200.46 671.01L203.09 671.03L205.72 671.05L208.35 671.07L210.99 671.09L213.62 671.11L216.25 671.13L218.89 671.15L221.52 671.17L224.15 671.19L226.78 671.21L229.42 671.23L232.05 671.25L234.68 671.28L237.32 671.30L239.95 671.32L242.58 671.34L245.22 671.37L247.85 671.39L250.48 671.42L253.11 671.44L255.75 671.47L258.38 671.49L261.01 671.52L263.65 671.55L266.28 671.58L268.91 671.61L271.54 671.63L274.18 671.66L276.81 671.70L279.44 671.73L282.08 671.76L284.71 671.79L287.34 671.83L289.97 671.86L292.61 671.90L295.24 671.93L297.87 671.97L300.51 672.01L303.14 672.05L305.77 672.10L308.41 672.15L311.04 672.21L313.67 672.27L316.30 672.34L318.94 672.40L321.57 672.47L324.20 672.55L326.84 672.62L329.47 672.70L332.10 672.77L334.73 672.85L337.37 672.93L340.00 673.00" fill="none" stroke="#000" stroke-width="2.5" />
<path d="M51.00 672.70L51.94 672.72L52.87 672.74L53.81 672.77L54.75 672.79L55.68 672.81L56.62 672.83L57.56 672.86L58.49 672.88L59.43 672.90L60.37 672.93L61.30 672.95L62.24 672.97L63.18 672.99L64.11 673.02L65.05 673.04L65.99 673.06L66.92 673.08L67.86 673.11L68.80 673.13L69.73 673.15L70.67 673.17L71.61 673.19L72.54 673.22L73.48 673.24L74.42 673.26L75.35 673.28L76.29 673.30L77.23 673.32L78.16 673.35L79.10 673.37L80.04 673.39L80.97 673.41L81.91 673.43L82.85 673.45L83.78 673.47L84.72 673.49L85.66 673.51L86.59 673.53L87.53 673.55L88.47 673.56L89.41 673.58L90.34 673.60L91.28 673.62L92.22 673.64L93.15 673.65L94.09 673.67L95.03 673.69L95.96 673.70L96.90 673.72L97.84 673.74L98.77 673.75L99.71 673.77L100.65 673.78L101.58 673.80L102.52 673.81L103.46 673.82L104.39 673.84L105.33 673.85L106.27 673.86L107.20 673.87L108.14 673.88L109.08 673.89L110.01 673.90L110.95 673.91L111.89 673.92L112.82 673.93L113.76 673.94L114.70 673.95L115.63 673.96L116.57 673.96L117.51 673.97L118.44 673.97L119.38 673.98L120.32 673.98L121.25 673.99L122.19 673.99L123.13 673.99L124.06 674.00L125.00 674.00" fill="none" stroke="#000" stroke-width="1.0" />
<path d="M125.00 674.00L134.52 674.00L144.04 673.99L153.56 673.97L163.08 673.95L172.59 673.92L182.11 673.89L191.63 673.85L201.15 673.80L210.67 673.76L220.19 673.70L229.71 673.65L239.23 673.59L248.75 673.53L258.27 673.47L267.78 673.41L277.30 673.35L286.82 673.29L296.34 673.22L305.86 673.16L315.38 673.09L324.90 673.02L334.42 672.94L343.94 672.86L353.46 672.77L362.97 672.68L372.49 672.59L382.01 672.49L391.53 672.38L401.05 672.27L410.57 672.16L420.09 672.04L429.61 671.92L439.13 671.79L448.65 671.66L458.16 671.53L467.68 671.39L477.20 671.25L486.72 671.10L496.24 670.95L505.76 670.78L515.28 670.60L524.80 670.41L534.32 670.20L543.84 669.97L553.35 669.74L562.87 669.50L572.39 669.25L581.91 669.00L591.43 668.74L600.95 668.47L610.47 668.20L619.99 667.90L629.51 667.59L639.03 667.27L648.54 666.93L658.06 666.59L667.58 666.25L677.10 665.90L686.62 665.56L696.14 665.21L705.66 664.87L715.18 664.51L724.70 664.16L734.22 663.80L743.73 663.44L753.25 663.07L762.77 662.71L772.29 662.33L781.81 661.96L791.33 661.58L800.85 661.20L810.37 660.81L819.89 660.42L829.41 660.03L838.92 659.63L848.44 659.23L857.96 658.82L867.48 658.41L877.00 658.00" fill="none" stroke="#000" stroke-width="4.2" />
<line x1="51" y1="684.4" x2="73" y2="684.2" stroke="#004a8f" stroke-width="1.1"/>
<line x1="73" y1="686.3" x2="320" y2="685.6" stroke="#000" stroke-width="2.6"/>
<line x1="73" y1="684.2" x2="320" y2="683.2" stroke="#004a8f" stroke-width="2.4"/>
<circle cx="680" cy="577" r="6" fill="#ff0000"/>
<circle cx="680" cy="588.5" r="6" fill="#ff0000"/>
<circle cx="680" cy="665.8" r="6" fill="#ff0000"/>
<line x1="51" y1="520.2" x2="959" y2="520.2" stroke="#000" stroke-width="1.5"/>
<line x1="51.2" y1="520" x2="51.2" y2="688" stroke="#000" stroke-width="1.4"/>
<line x1="959" y1="520" x2="959" y2="688" stroke="#000" stroke-width="2"/>
<line x1="51" y1="687.5" x2="959" y2="687.5" stroke="#707070" stroke-width="1.4"/>
<line x1="44" y1="687.50" x2="51" y2="687.50" stroke="#000" stroke-width="2"/>
<text x="38.0" y="692.6" text-anchor="end" font-family="Liberation Sans, sans-serif" font-size="16" >0</text>
<line x1="44" y1="631.78" x2="51" y2="631.78" stroke="#000" stroke-width="2"/>
<text x="38.0" y="636.9" text-anchor="end" font-family="Liberation Sans, sans-serif" font-size="16" >1</text>
<line x1="44" y1="576.06" x2="51" y2="576.06" stroke="#000" stroke-width="2"/>
<text x="38.0" y="581.2" text-anchor="end" font-family="Liberation Sans, sans-serif" font-size="16" >2</text>
<line x1="959" y1="687.50" x2="966.5" y2="687.50" stroke="#000" stroke-width="2"/>
<text x="971.0" y="692.2" text-anchor="start" font-family="Liberation Sans, sans-serif" font-size="16" >0</text>
<line x1="959" y1="665.21" x2="966.5" y2="665.21" stroke="#000" stroke-width="2"/>
<text x="971.0" y="669.9" text-anchor="start" font-family="Liberation Sans, sans-serif" font-size="16" >2</text>
<line x1="959" y1="642.92" x2="966.5" y2="642.92" stroke="#000" stroke-width="2"/>
<text x="971.0" y="647.6" text-anchor="start" font-family="Liberation Sans, sans-serif" font-size="16" >4</text>
<line x1="959" y1="631.78" x2="966.5" y2="631.78" stroke="#000" stroke-width="2"/>
<text x="971.0" y="636.5" text-anchor="start" font-family="Liberation Sans, sans-serif" font-size="16" >5</text>
<line x1="959" y1="620.64" x2="966.5" y2="620.64" stroke="#000" stroke-width="2"/>
<text x="971.0" y="625.3" text-anchor="start" font-family="Liberation Sans, sans-serif" font-size="16" >6</text>
<line x1="959" y1="598.35" x2="966.5" y2="598.35" stroke="#000" stroke-width="2"/>
<text x="971.0" y="603.0" text-anchor="start" font-family="Liberation Sans, sans-serif" font-size="16" >8</text>
<line x1="959" y1="576.06" x2="966.5" y2="576.06" stroke="#000" stroke-width="2"/>
<text x="971.0" y="580.8" text-anchor="start" font-family="Liberation Sans, sans-serif" font-size="16" >10</text>
<text x="25.3" y="534.8" text-anchor="middle" font-family="Liberation Sans, sans-serif" font-size="16" >P</text>
<text x="24.8" y="555.3" text-anchor="middle" font-family="Liberation Sans, sans-serif" font-size="16" textLength="35.5" lengthAdjust="spacing">[kW]</text>
<text x="967.5" y="534.4" text-anchor="start" font-family="Liberation Sans, sans-serif" font-size="16" textLength="46.6" lengthAdjust="spacing">NPSH</text>
<text x="990.5" y="556.5" text-anchor="middle" font-family="Liberation Sans, sans-serif" font-size="16" >[m]</text>
<text x="751.5" y="539.9" text-anchor="start" font-family="Liberation Sans, sans-serif" font-size="16" fill="#1f5a9e" textLength="195" lengthAdjust="spacing">P1 (motor+freq.converter)</text>
<text x="865.5" y="580.3" text-anchor="start" font-family="Liberation Sans, sans-serif" font-size="16" fill="#1f5a9e">P2</text>
<text x="54.5" y="715.8" text-anchor="start" font-family="Liberation Sans, sans-serif" font-size="16" textLength="286.4" lengthAdjust="spacing">P1 (motor+freq.converter) = 1.977 kW</text>
<text x="54.5" y="737.3" text-anchor="start" font-family="Liberation Sans, sans-serif" font-size="16" textLength="110.5" lengthAdjust="spacing">P2 = 1.779 kW</text>
<text x="54.5" y="758.8" text-anchor="start" font-family="Liberation Sans, sans-serif" font-size="16" textLength="117.6" lengthAdjust="spacing">NPSH = 1.93 m</text></svg></body></html>
